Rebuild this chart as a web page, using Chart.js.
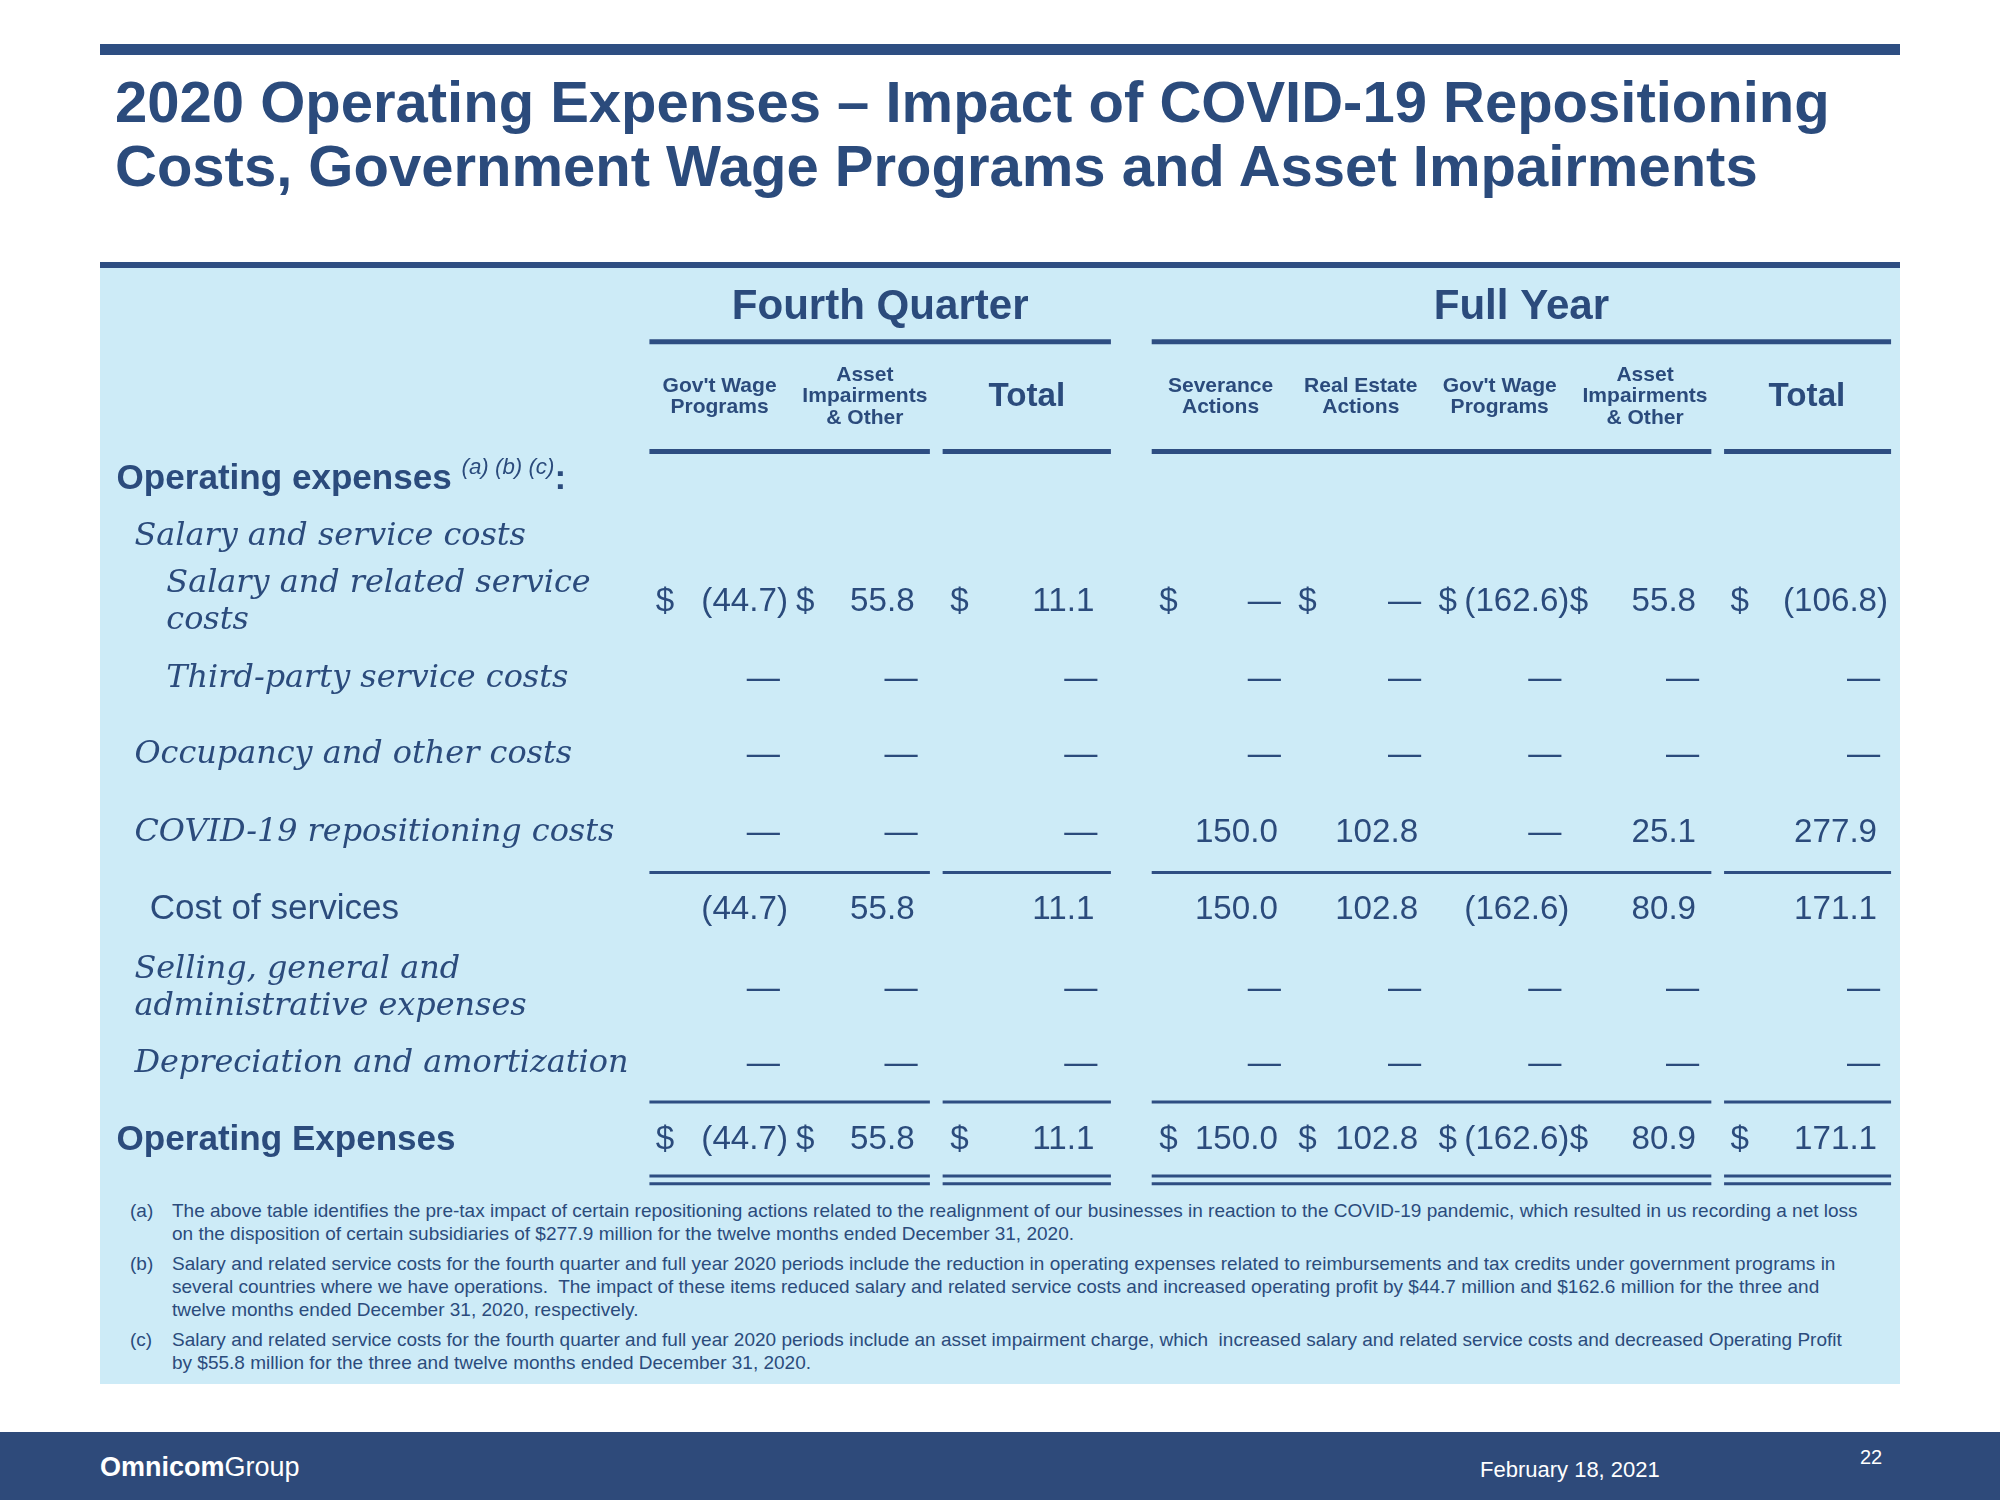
<!DOCTYPE html>
<html>
<head>
<meta charset="utf-8">
<script src="https://cdn.jsdelivr.net/npm/chart.js@4/dist/chart.umd.min.js"></script>
<style>
  body { margin: 0; width: 2000px; height: 1500px; background: #fff; position: relative; overflow: hidden; font-family: "Liberation Sans", Arial, sans-serif; }
  .rule { position: absolute; left: 100px; top: 44px; width: 1800px; height: 11px; background: #2e4e82; }
  h1 { position: absolute; left: 115px; top: 70px; margin: 0; font-size: 58px; line-height: 64px; color: #2b4b7c; font-weight: bold; }
  .panel { position: absolute; left: 100px; top: 262px; width: 1800px; height: 1122px; background: #cdebf7; border-top: 6px solid #2e4e82; box-sizing: border-box; }
  canvas { position: absolute; left: 100px; top: 264px; }
  .notes { position: absolute; left: 130px; top: 1199px; width: 1730px; color: #2b4b7c; font-size: 19px; line-height: 23px; }
  .note { position: relative; padding-left: 42px; margin-bottom: 7px; }
  .note span { position: absolute; left: 0; }
  .footer { position: absolute; left: 0; top: 1432px; width: 2000px; height: 68px; background: #2e4a7a; color: #fff; }
  .logo { position: absolute; left: 100px; top: 20px; font-size: 27px; }
  .date { position: absolute; left: 1480px; top: 25px; font-size: 22px; }
  .page { position: absolute; left: 1860px; top: 14px; font-size: 20px; }
</style>
</head>
<body>
<div class="rule"></div>
<h1>2020 Operating Expenses – Impact of COVID-19 Repositioning<br>Costs, Government Wage Programs and Asset Impairments</h1>
<div class="panel"></div>
<canvas id="chart" width="1800" height="935"></canvas>
<div class="notes">
  <div class="note"><span>(a)</span>The above table identifies the pre-tax impact of certain repositioning actions related to the realignment of our businesses in reaction to the COVID-19 pandemic, which resulted in us recording a net loss on the disposition of certain subsidiaries of $277.9 million for the twelve months ended December 31, 2020.</div>
  <div class="note"><span>(b)</span>Salary and related service costs for the fourth quarter and full year 2020 periods include the reduction in operating expenses related to reimbursements and tax credits under government programs in several countries where we have operations.&nbsp; The impact of these items reduced salary and related service costs and increased operating profit by $44.7 million and $162.6 million for the three and twelve months ended December 31, 2020, respectively.</div>
  <div class="note"><span>(c)</span>Salary and related service costs for the fourth quarter and full year 2020 periods include an asset impairment charge, which&nbsp; increased salary and related service costs and decreased Operating Profit by $55.8 million for the three and twelve months ended December 31, 2020.</div>
</div>
<div class="footer">
  <div class="logo"><b>Omnicom</b>Group</div>
  <div class="date">February 18, 2021</div>
  <div class="page">22</div>
</div>
<script>
// column headers
const groups = ['Fourth Quarter', 'Full Year']
const columns = [
  ["Gov't Wage", 'Programs'],
  ['Asset', 'Impairments', '& Other'],
  ['Total'],
  ['Severance', 'Actions'],
  ['Real Estate', 'Actions'],
  ["Gov't Wage", 'Programs'],
  ['Asset', 'Impairments', '& Other'],
  ['Total']
]
// row labels
const rowLabels = [
  ['Salary and related service', 'costs'],
  ['Third-party service costs'],
  ['Occupancy and other costs'],
  ['COVID-19 repositioning costs'],
  ['Cost of services'],
  ['Selling, general and', 'administrative expenses'],
  ['Depreciation and amortization'],
  ['Operating Expenses']
]
// values, null = —
const salaryRelated = [-44.7, 55.8, 11.1, null, null, -162.6, 55.8, -106.8]
const thirdParty = [null, null, null, null, null, null, null, null]
const occupancy = [null, null, null, null, null, null, null, null]
const covidCosts = [null, null, null, 150.0, 102.8, null, 25.1, 277.9]
const costOfServices = [-44.7, 55.8, 11.1, 150.0, 102.8, -162.6, 80.9, 171.1]
const sga = [null, null, null, null, null, null, null, null]
const depreciation = [null, null, null, null, null, null, null, null]
const operatingExpenses = [-44.7, 55.8, 11.1, 150.0, 102.8, -162.6, 80.9, 171.1]
const rows = [salaryRelated, thirdParty, occupancy, covidCosts, costOfServices, sga, depreciation, operatingExpenses]
const dollarRows = [0, 7]

// layout (in slide units)
const colRight = [609, 717, 858, 1002, 1112, 1222, 1330, 1472]
const colDollar = [514, 624, 745, 909, 1018, 1128, 1231, 1357]
const colCenter = [564, 678, 805, 957, 1067, 1176, 1290, 1417]
const rowY = [472, 532, 592, 653, 713, 775, 834, 894]
const segs = [[509, 729], [739, 871], [903, 1342], [1352, 1483]]
const K = 1.2755
const blue = '#2b4b7c'
const sans = '"Liberation Sans", Arial, sans-serif'
const serif = '"DejaVu Serif", Georgia, serif'

const tablePlugin = {
  id: 'table',
  afterDraw(chart) {
    const ctx = chart.ctx, xs = chart.scales.x, ys = chart.scales.y
    const X = v => xs.getPixelForValue(v), Y = v => ys.getPixelForValue(v)
    ctx.save()
    ctx.fillStyle = blue
    ctx.strokeStyle = '#2e4e82'
    ctx.textBaseline = 'middle'
    const line = (y, w, list) => {
      ctx.lineWidth = w
      list.forEach(s => { ctx.beginPath(); ctx.moveTo(X(s[0]), Y(y)); ctx.lineTo(X(s[1]), Y(y)); ctx.stroke() })
    }
    // group titles
    ctx.font = 'bold ' + 33 * K + 'px ' + sans
    ctx.textAlign = 'center'
    ctx.fillText(groups[0], X(690), Y(241))
    ctx.fillText(groups[1], X(1193), Y(241))
    line(268, 5, [[509, 871], [903, 1483]])
    // column headers
    columns.forEach((c, i) => {
      if (c.length === 1) {
        ctx.font = 'bold ' + 26 * K + 'px ' + sans
        ctx.fillText(c[0], X(colCenter[i]), Y(311))
      } else {
        ctx.font = 'bold ' + 16.5 * K + 'px ' + sans
        const top = 311 - (c.length - 1) * 8.5
        c.forEach((t, j) => ctx.fillText(t, X(colCenter[i]), Y(top + j * 17)))
      }
    })
    line(354, 5, segs)
    line(684, 3, segs)
    line(864, 3, segs)
    line(922, 3, segs)
    line(928, 3, segs)
    // section label
    ctx.textAlign = 'left'
    ctx.font = 'bold ' + 27.5 * K + 'px ' + sans
    ctx.fillText('Operating expenses', X(91), Y(376))
    let w = ctx.measureText('Operating expenses ').width
    ctx.font = 'italic ' + 17.5 * K + 'px ' + sans
    ctx.fillText('(a) (b) (c)', X(91) + w, Y(367))
    w += ctx.measureText('(a) (b) (c)').width
    ctx.font = 'bold ' + 27.5 * K + 'px ' + sans
    ctx.fillText(':', X(91) + w, Y(376))
    ctx.font = 'italic ' + 25 * K + 'px ' + serif
    ctx.fillText('Salary and service costs', X(105), Y(421))
    // row labels
    const indent = [130, 130, 105, 105, 117, 105, 105, 91]
    rowLabels.forEach((r, i) => {
      if (i === 4) ctx.font = 27.5 * K + 'px ' + sans
      else if (i === 7) ctx.font = 'bold ' + 27.5 * K + 'px ' + sans
      else ctx.font = 'italic ' + 25 * K + 'px ' + serif
      const top = rowY[i] - (r.length - 1) * 14.5
      r.forEach((t, j) => ctx.fillText(t, X(indent[i]), Y(top + j * 29)))
    })
    // values
    ctx.font = 26 * K + 'px ' + sans
    rows.forEach((vals, i) => {
      const y = Y(rowY[i])
      vals.forEach((v, c) => {
        const xr = X(colRight[c])
        if (dollarRows.includes(i)) { ctx.textAlign = 'left'; ctx.fillText('$', X(colDollar[c]), y) }
        ctx.textAlign = 'right'
        if (v === null) { ctx.fillText('—', xr + 3, y); return }
        const s = Math.abs(v).toFixed(1)
        ctx.fillText(s, xr, y)
        if (v < 0) {
          ctx.fillText('(', xr - ctx.measureText(s).width, y)
          ctx.textAlign = 'left'
          ctx.fillText(')', xr, y)
        }
      })
    })
    ctx.restore()
  }
}

new Chart(document.getElementById('chart').getContext('2d'), {
  type: 'scatter',
  data: { datasets: [{ data: [], pointRadius: 0 }] },
  options: {
    responsive: false,
    animation: false,
    layout: { padding: 0 },
    plugins: { legend: { display: false }, tooltip: { enabled: false } },
    scales: {
      x: { type: 'linear', min: 78, max: 1490, display: false },
      y: { type: 'linear', min: 207, max: 940, reverse: true, display: false }
    }
  },
  plugins: [tablePlugin]
})
</script>
</body>
</html>
